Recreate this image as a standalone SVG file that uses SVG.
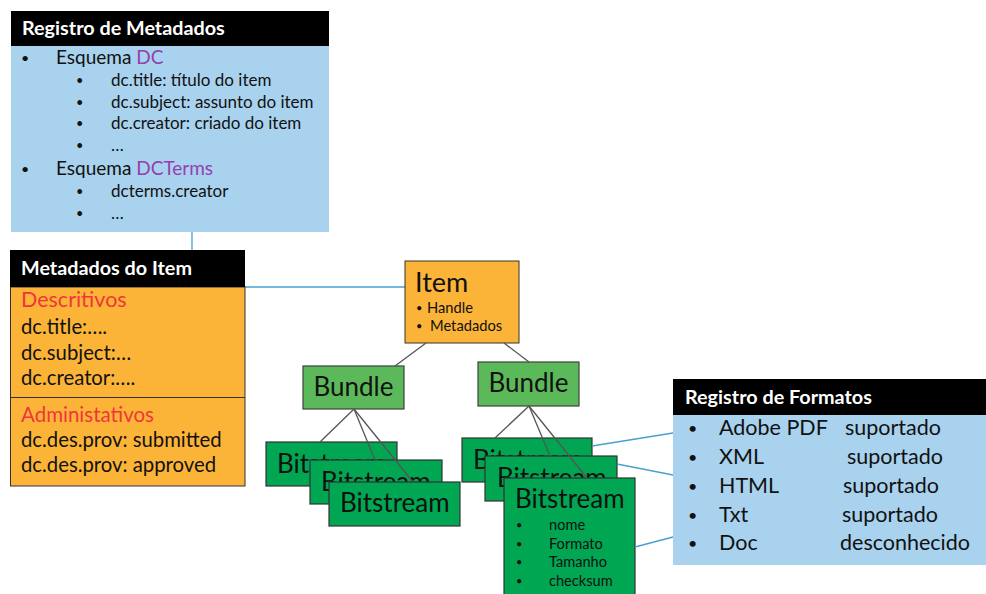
<svg xmlns="http://www.w3.org/2000/svg" width="986" height="594" viewBox="0 0 986 594">
  <style>
    text { font-family: Lato, "Open Sans", "Liberation Sans", sans-serif; fill: #111; }
    .hdr { fill: #000; }
    .hdrtxt { fill: #fff; font-weight: bold; font-size: 19.8px; }
    .blue { fill: #A9D2EE; }
    .orange { fill: #FBB437; stroke: #333; stroke-width: 1; }
    .bundle { fill: #5CB95A; stroke: #404040; stroke-width: 1.2; }
    .bit { fill: #00A651; stroke: #333; stroke-width: 1.2; }
    .red { fill: #F0363C; }
    .purple { fill: #9440B0; }
    .tree { stroke: #555; stroke-width: 1.3; fill: none; }
    .link { stroke: #4A9FD0; stroke-width: 1.3; fill: none; }
    .blt { font-size: 0.75em; }
  </style>

  <!-- connectors -->
  <g id="connectors">
    <line class="link" x1="192" y1="232" x2="192" y2="250"/>
    <line class="link" x1="245" y1="287" x2="405" y2="287"/>
  </g>

  <!-- metadata registry -->
  <g id="registro-metadados">
    <rect class="blue" x="11" y="46" width="318" height="186"/>
    <rect class="hdr" x="11" y="11" width="318" height="35"/>
    <text class="hdrtxt" x="22" y="35">Registro de Metadados</text>
    <g font-size="19">
      <text x="21" y="63"><tspan class="blt">•</tspan></text>
      <text x="56" y="64">Esquema <tspan class="purple">DC</tspan></text>
      <text x="21" y="174"><tspan class="blt">•</tspan></text>
      <text x="56" y="175">Esquema <tspan class="purple">DCTerms</tspan></text>
    </g>
    <g font-size="17">
      <text x="76" y="85"><tspan class="blt">•</tspan></text><text x="111" y="86">dc.title: título do item</text>
      <text x="76" y="107"><tspan class="blt">•</tspan></text><text x="111" y="108">dc.subject: assunto do item</text>
      <text x="76" y="128"><tspan class="blt">•</tspan></text><text x="111" y="129">dc.creator: criado do item</text>
      <text x="76" y="150"><tspan class="blt">•</tspan></text><text x="111" y="151">…</text>
      <text x="76" y="196"><tspan class="blt">•</tspan></text><text x="111" y="197">dcterms.creator</text>
      <text x="76" y="218"><tspan class="blt">•</tspan></text><text x="111" y="219">…</text>
    </g>
  </g>

  <!-- item metadata -->
  <g id="metadados-item">
    <rect class="orange" x="10.5" y="287" width="234.5" height="199"/>
    <line x1="10.5" y1="397.5" x2="245" y2="397.5" stroke="#333" stroke-width="1"/>
    <rect class="hdr" x="10" y="250" width="235" height="37"/>
    <text class="hdrtxt" x="21" y="275">Metadados do Item</text>
    <text class="red" x="21" y="307" font-size="21.5">Descritivos</text>
    <g font-size="20.3">
      <text x="21" y="334">dc.title:….</text>
      <text x="21" y="360">dc.subject:…</text>
      <text x="21" y="385">dc.creator:….</text>
      <text x="21" y="447">dc.des.prov: submitted</text>
      <text x="21" y="472">dc.des.prov: approved</text>
    </g>
    <text class="red" x="21" y="422" font-size="20.5">Administativos</text>
  </g>

  <!-- item -->
  <g id="item">
    <rect class="orange" x="405" y="261" width="114" height="82"/>
    <text x="415" y="292" font-size="27">Item</text>
    <g font-size="14.7">
      <text x="416" y="312"><tspan class="blt">•</tspan></text><text x="427" y="313">Handle</text>
      <text x="416" y="330"><tspan class="blt">•</tspan></text><text x="430" y="331">Metadados</text>
    </g>
  </g>

  <!-- bundles -->
  <g id="bundle-1">
    <rect class="bundle" x="303" y="366" width="101" height="43"/>
    <text x="353.5" y="396" font-size="26" text-anchor="middle">Bundle</text>
  </g>
  <g id="bundle-2">
    <rect class="bundle" x="478" y="362" width="101" height="44"/>
    <text x="528.5" y="392" font-size="26" text-anchor="middle">Bundle</text>
  </g>

  <!-- bitstreams under the first bundle -->
  <g id="bitstream-1a">
    <rect class="bit" x="266" y="442" width="131" height="44"/>
    <text x="277" y="473" font-size="26">Bitstream</text>
  </g>
  <g id="bitstream-1b">
    <rect class="bit" x="310" y="460" width="132" height="44"/>
    <text x="321" y="491" font-size="26">Bitstream</text>
  </g>
  <g id="bitstream-1c">
    <rect class="bit" x="329" y="482" width="131" height="44"/>
    <text x="340" y="512" font-size="26">Bitstream</text>
  </g>

  <!-- bitstreams under the second bundle -->
  <g id="bitstream-2a">
    <rect class="bit" x="462" y="438" width="130" height="44"/>
    <text x="473" y="469" font-size="26">Bitstream</text>
  </g>
  <g id="bitstream-2b">
    <rect class="bit" x="485" y="456" width="132" height="45"/>
    <text x="497" y="487" font-size="26">Bitstream</text>
  </g>
  <g id="bitstream-2c">
    <rect class="bit" x="504" y="478" width="131" height="120"/>
    <text x="515" y="508" font-size="26">Bitstream</text>
    <g font-size="14.6">
      <text x="516" y="529"><tspan class="blt">•</tspan></text><text x="549" y="530">nome</text>
      <text x="516" y="548"><tspan class="blt">•</tspan></text><text x="549" y="549">Formato</text>
      <text x="516" y="566"><tspan class="blt">•</tspan></text><text x="549" y="567">Tamanho</text>
      <text x="516" y="585"><tspan class="blt">•</tspan></text><text x="549" y="586">checksum</text>
    </g>
  </g>

  <!-- tree and format links drawn over the boxes -->
  <g id="tree-links">
    <line class="tree" x1="426" y1="343" x2="395" y2="366"/>
    <line class="tree" x1="504" y1="343" x2="529" y2="362"/>
    <line class="tree" x1="354" y1="409" x2="320" y2="442"/>
    <line class="tree" x1="354" y1="409" x2="375" y2="460"/>
    <line class="tree" x1="354" y1="409" x2="413" y2="482"/>
    <line class="tree" x1="529" y1="406" x2="495" y2="438"/>
    <line class="tree" x1="529" y1="406" x2="550" y2="456"/>
    <line class="tree" x1="529" y1="406" x2="587" y2="478"/>
    <line class="link" x1="592" y1="446" x2="673" y2="433"/>
    <line class="link" x1="617" y1="464" x2="673" y2="475"/>
    <line class="link" x1="635" y1="547" x2="673" y2="537"/>
  </g>

  <!-- format registry -->
  <g id="registro-formatos">
    <rect class="blue" x="673" y="415" width="313" height="150"/>
    <rect class="hdr" x="673" y="379" width="313" height="36"/>
    <text class="hdrtxt" x="685" y="404">Registro de Formatos</text>
    <g font-size="21.5">
      <text x="688" y="434"><tspan class="blt">•</tspan></text><text x="719" y="435">Adobe PDF</text><text x="845" y="435">suportado</text>
      <text x="688" y="463"><tspan class="blt">•</tspan></text><text x="719" y="464">XML</text><text x="847" y="464">suportado</text>
      <text x="688" y="492"><tspan class="blt">•</tspan></text><text x="719" y="493">HTML</text><text x="843" y="493">suportado</text>
      <text x="688" y="521"><tspan class="blt">•</tspan></text><text x="719" y="522">Txt</text><text x="842" y="522">suportado</text>
      <text x="688" y="549"><tspan class="blt">•</tspan></text><text x="719" y="550">Doc</text><text x="840" y="550">desconhecido</text>
    </g>
  </g>
</svg>
